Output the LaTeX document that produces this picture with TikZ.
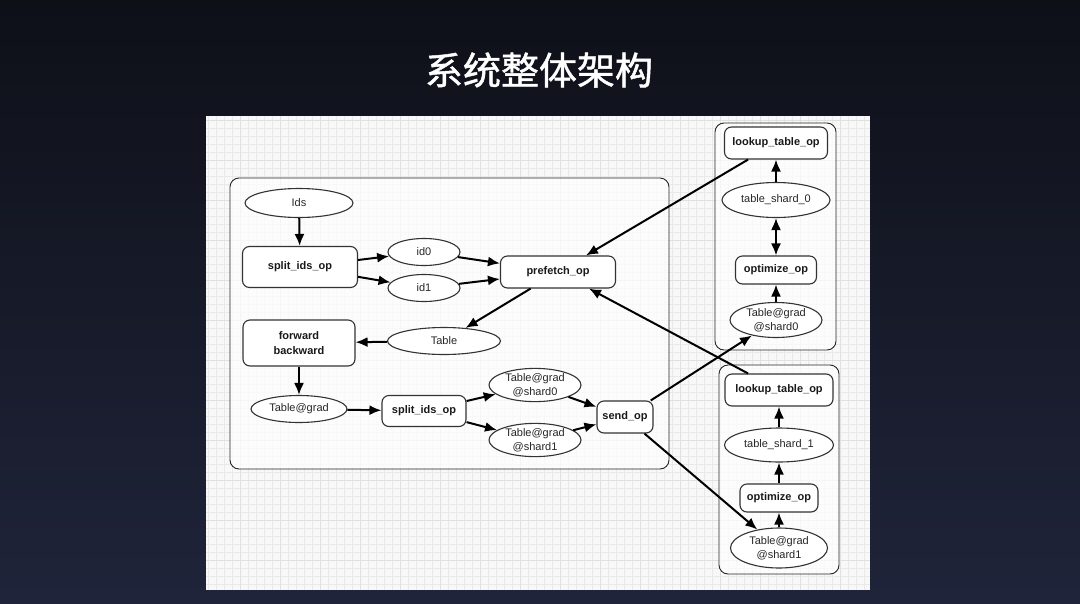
\documentclass[tikz,border=0pt]{standalone}
\usepackage{fontspec}
\setmainfont{Liberation Sans}
\newfontfamily\cjk[FakeBold=1.2]{Noto Sans CJK SC}
\usetikzlibrary{shapes,arrows.meta,positioning,fit}
\definecolor{bgtop}{HTML}{0E1018}
\definecolor{bgbot}{HTML}{20243A}
\definecolor{panel}{HTML}{F8F8F8}
\definecolor{gridc}{HTML}{E9E9E9}
\definecolor{edgec}{HTML}{333333}

\begin{document}
\begin{tikzpicture}[
        x=1pt, y=-1pt,
        >={Latex[length=12pt,width=10pt]},
        op/.style={rectangle, rounded corners=7pt, draw=edgec, line width=1.1pt, fill=white, align=center, inner sep=0pt, text=black!90, font=\bfseries\fontsize{11}{15}\selectfont},
        var/.style={ellipse, draw=edgec, line width=1.1pt, fill=white, align=center, inner sep=0pt, text=black!85, font=\fontsize{11}{14}\selectfont},
        groupbox/.style={rectangle, rounded corners=9pt, draw=black!85, line width=0.9pt, fill=white, fill opacity=0.7, inner sep=0pt},
        arrow/.style={line width=2pt, ->},
        twoway/.style={line width=2pt, <->}
    ]
        \useasboundingbox (0,0) rectangle (1080,603);
        % background and title
        \fill[top color=bgtop, bottom color=bgbot] (0,0) rectangle (1080,603);
        \node[text=white, font=\cjk\fontsize{38}{40}\selectfont] (title) at (539,70) {系统整体架构};

        % drawing panel
        \fill[panel] (206,116) rectangle (870,590);
        \draw[gridc, line width=0.3pt, step=8pt] (206,116) grid (870,590);
        \draw[black!12, line width=0.4pt, step=40pt] (206,116) grid (870,590);

        % groups
        \node[groupbox, fit={(230,178) (669,469)}] (worker) {};
        \node[groupbox, fit={(715,123) (836,350)}] (pserver0) {};
        \node[groupbox, fit={(719,365) (839,574)}] (pserver1) {};

        % worker side
        \node[var, minimum width=108pt, minimum height=29pt] (ids) at (299,203) {Ids};
        \node[op, minimum width=115pt, minimum height=41pt] (split) at (300,267) {split\_ids\_op};
        \node[var, minimum width=72pt, minimum height=27pt] (id0) at (424,252) {id0};
        \node[var, minimum width=72pt, minimum height=27pt] (id1) at (424,288) {id1};
        \node[op, minimum width=115pt, minimum height=32pt] (prefetch) at (558,272) {prefetch\_op};
        \node[op, minimum width=112pt, minimum height=46pt] (fwdbwd) at (299,343) {forward\\backward};
        \node[var, minimum width=113pt, minimum height=27pt] (table) at (444,341) {Table};
        \node[var, minimum width=96pt, minimum height=27pt] (grad) at (299,409) {Table@grad};
        \node[op, minimum width=84pt, minimum height=31pt] (splitgrad) at (424,411) {split\_ids\_op};
        \node[var, minimum width=92pt, minimum height=32pt] (gradA) at (535,385) {Table@grad\\@shard0};
        \node[var, minimum width=92pt, minimum height=33pt] (gradB) at (535,440) {Table@grad\\@shard1};
        \node[op, minimum width=56pt, minimum height=32pt] (send) at (625,417) {send\_op};

        % pserver 0
        \node[op, minimum width=103pt, minimum height=32pt] (lookupA) at (776,143) {lookup\_table\_op};
        \node[var, minimum width=108pt, minimum height=35pt] (shardA) at (776,200) {table\_shard\_0};
        \node[op, minimum width=81pt, minimum height=28pt] (optA) at (776,270) {optimize\_op};
        \node[var, minimum width=92pt, minimum height=35pt] (pgradA) at (776,320) {Table@grad\\@shard0};

        % pserver 1
        \node[op, minimum width=108pt, minimum height=32pt] (lookupB) at (779,390) {lookup\_table\_op};
        \node[var, minimum width=109pt, minimum height=34pt] (shardB) at (779,445) {table\_shard\_1};
        \node[op, minimum width=78pt, minimum height=28pt] (optB) at (779,498) {optimize\_op};
        \node[var, minimum width=97pt, minimum height=40pt] (pgradB) at (779,548) {Table@grad\\@shard1};

        % edges
        \draw[arrow] (ids) -- (split);
        \draw[arrow] (split) -- (id0);
        \draw[arrow] (split) -- (id1);
        \draw[arrow] (id0) -- (prefetch);
        \draw[arrow] (id1) -- (prefetch);
        \draw[arrow] (lookupA) -- (prefetch);
        \draw[arrow] (lookupB) -- (prefetch);
        \draw[arrow] (prefetch) -- (table);
        \draw[arrow] (table) -- (fwdbwd);
        \draw[arrow] (fwdbwd) -- (grad);
        \draw[arrow] (grad) -- (splitgrad);
        \draw[arrow] (splitgrad) -- (gradA);
        \draw[arrow] (splitgrad) -- (gradB);
        \draw[arrow] (gradA) -- (send);
        \draw[arrow] (gradB) -- (send);
        \draw[arrow] (send) -- (pgradA);
        \draw[arrow] (send) -- (pgradB);

        \draw[arrow] (shardA) -- (lookupA);
        \draw[twoway] (shardA) -- (optA);
        \draw[arrow] (pgradA) -- (optA);
        \draw[arrow] (shardB) -- (lookupB);
        \draw[arrow] (optB) -- (shardB);
        \draw[arrow] (pgradB) -- (optB);
    \end{tikzpicture}
\end{document}
